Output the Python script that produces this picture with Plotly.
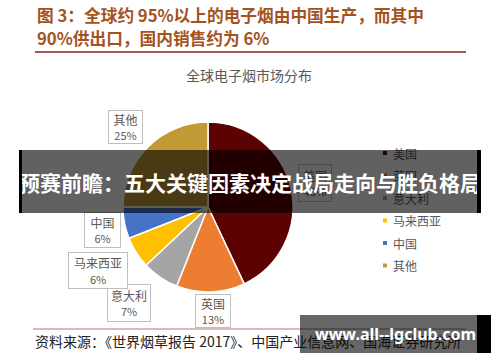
import plotly.graph_objects as go

# ---- data ----
categories = ["美国", "英国", "意大利", "马来西亚", "中国", "其他"]
shares = [43, 13, 7, 6, 6, 25]
colors = ["#5c0202", "#ed7d31", "#a5a5a5", "#ffc000", "#4472c4", "#c09a35"]

title_lines = ["图 3：全球约 95%以上的电子烟由中国生产，而其中", "90%供出口，国内销售约为 6%"]
chart_title = "全球电子烟市场分布"
source_text = "资料来源：《世界烟草报告 2017》、中国产业信息网、国海证券研究所"
banner_text = "预赛前瞻：五大关键因素决定战局走向与胜负格局"
site_text = "www.all--lgclub.com"

W, H = 500, 362
def px(x): return x / W
def py(y): return 1 - y / H

CJK = "Noto Sans CJK SC"

# pie geometry (pixels)
cx, cy, r = 208, 207, 85

fig = go.Figure(go.Pie(
    labels=categories, values=shares, sort=False, direction="clockwise", rotation=0,
    marker=dict(colors=colors, line=dict(color="white", width=1.5)),
    textinfo="none", showlegend=False,
    domain=dict(x=[px(cx - r), px(cx + r)], y=[py(cy + r), py(cy - r)]),
))

shapes = []
annotations = []

# title
for i, line in enumerate(title_lines):
    annotations.append(dict(x=px(35), y=py(15 + i * 23), xref="paper", yref="paper",
                            xanchor="left", yanchor="middle", showarrow=False,
                            text="<b>" + line + "</b>",
                            font=dict(family=CJK, size=16.7, color="#a4521e")))
shapes.append(dict(type="line", xref="paper", yref="paper", x0=px(35), x1=px(466),
                   y0=py(52), y1=py(52), line=dict(color="#8b1c1c", width=1.5)))

# chart title
annotations.append(dict(x=px(249), y=py(75), xref="paper", yref="paper", showarrow=False,
                        xanchor="center", yanchor="middle",
                        text=chart_title, font=dict(family=CJK, size=14, color="#595959")))

# data label boxes (center x, center y, width, height) in pixels
label_boxes = {
    "其他": (125, 127, 35, 34),
    "美国": (315, 183, 34, 38),
    "中国": (102, 230, 37, 36),
    "意大利": (129, 303, 44, 38),
    "马来西亚": (98, 270, 60, 37),
    "英国": (213, 311, 36, 34),
}
order = ["其他", "美国", "中国", "意大利", "马来西亚", "英国"]
for name in order:
    bx, by, bw, bh = label_boxes[name]
    val = shares[categories.index(name)]
    annotations.append(dict(
        x=px(bx), y=py(by), xref="paper", yref="paper", showarrow=False,
        xanchor="center", yanchor="middle",
        width=bw - 2, height=bh - 2, borderpad=0, borderwidth=1,
        bordercolor="#bfbfbf", bgcolor="white",
        text=f"{name}<br><span style='font-size:11px'>{val}%</span>",
        font=dict(family=CJK, size=12, color="#595959")))

# legend (manual, small square markers)
for i, (name, col) in enumerate(zip(categories, colors)):
    yy = 153 + i * 22.5
    shapes.append(dict(type="rect", xref="paper", yref="paper",
                       x0=px(383), x1=px(387), y0=py(yy + 2), y1=py(yy - 2),
                       fillcolor=col, line=dict(width=0)))
    annotations.append(dict(x=px(391), y=py(yy), xref="paper", yref="paper",
                            xanchor="left", yanchor="middle", showarrow=False,
                            text=name, font=dict(family=CJK, size=12, color="#595959")))

# source line and text
shapes.append(dict(type="line", xref="paper", yref="paper", x0=px(33), x1=px(466),
                   y0=py(329), y1=py(329), line=dict(color="#c9a5a5", width=1.5)))
annotations.append(dict(x=px(33), y=py(341), xref="paper", yref="paper",
                        xanchor="left", yanchor="middle", showarrow=False,
                        text=source_text, font=dict(family=CJK, size=14, color="#222222")))

# overlay banners (annotations, drawn last so they sit above everything)
annotations.append(dict(x=px(250), y=py(181.5), xref="paper", yref="paper",
                        xanchor="center", yanchor="middle", showarrow=False,
                        width=462, height=63, borderpad=0, borderwidth=0,
                        bgcolor="rgba(0,0,0,0.62)",
                        text="<b>" + banner_text + "</b>",
                        font=dict(family=CJK, size=21, color="white")))
for x0, x1 in [(19, 22), (477, 481)]:
    annotations.append(dict(x=px((x0 + x1) / 2), y=py(181.5), xref="paper", yref="paper",
                            xanchor="center", yanchor="middle", showarrow=False,
                            width=x1 - x0, height=63, borderpad=0, borderwidth=0,
                            bgcolor="black", text=" ", font=dict(size=1)))
annotations.append(dict(x=px(395.5), y=py(334), xref="paper", yref="paper",
                        xanchor="center", yanchor="middle", showarrow=False,
                        width=191, height=38, borderpad=0, borderwidth=0,
                        bgcolor="rgba(0,0,0,0.6)",
                        text="<b>" + site_text + "</b>",
                        font=dict(family="Noto Sans", size=16, color="white")))
annotations.append(dict(x=px(484), y=py(334), xref="paper", yref="paper",
                        xanchor="center", yanchor="middle", showarrow=False,
                        width=14, height=38, borderpad=0, borderwidth=0,
                        bgcolor="black", text=" ", font=dict(size=1)))

fig.update_layout(
    width=W, height=H, margin=dict(l=0, r=0, t=0, b=0),
    paper_bgcolor="white", plot_bgcolor="white",
    shapes=shapes, annotations=annotations,
)

fig.write_html("out.html", config={"displayModeBar": False},
               post_script="document.body.style.margin='0';document.body.style.overflow='hidden';")
